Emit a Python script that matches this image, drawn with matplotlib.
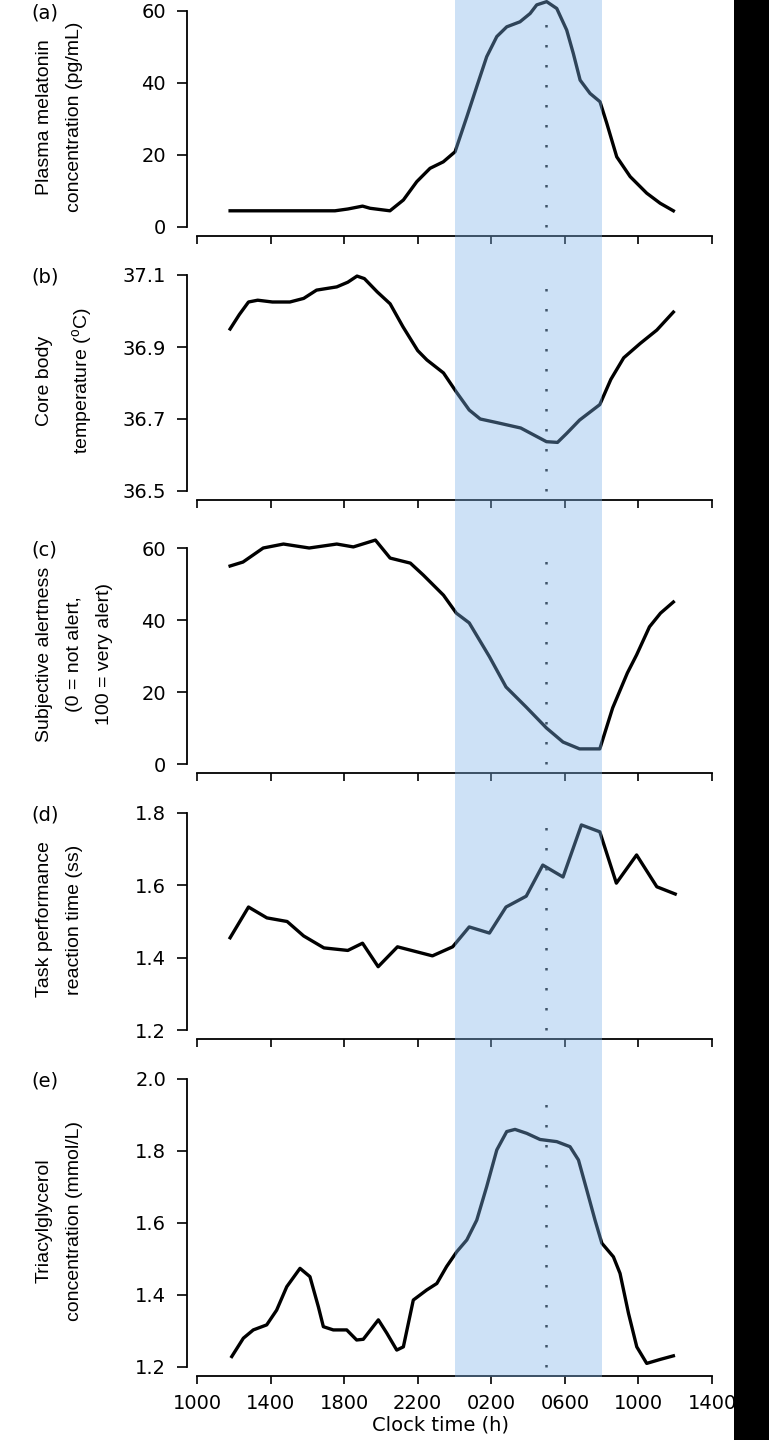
import matplotlib
matplotlib.use("Agg")
import matplotlib.pyplot as plt
from matplotlib.patches import Rectangle

plt.rcParams['font.family'] = 'DejaVu Sans'
plt.rcParams['mathtext.fontset'] = 'custom'
plt.rcParams['mathtext.rm'] = 'Liberation Sans'

# clock time in hours (10 = 10:00 day 1, 38 = 14:00 day 2)
xticks = [10, 14, 18, 22, 26, 30, 34, 38]
xticklabels = ["1000", "1400", "1800", "2200", "0200", "0600", "1000", "1400"]
night = (24, 32)      # shaded sleep window
nadir = 29            # dotted line

mel_t = [11.8, 13, 15, 17.5, 18.2, 19.0, 19.41, 20.49, 21.22, 21.95, 22.67, 23.39, 24.03, 24.67,
         25.21, 25.75, 26.30, 26.84, 27.56, 28.11, 28.47, 29.01, 29.56, 30.10, 30.46, 30.83,
         31.37, 31.91, 32.28, 32.82, 33.55, 34.45, 35.18, 35.90]
mel_v = [4.5, 4.5, 4.5, 4.5, 5.0, 5.8, 5.2, 4.5, 7.5, 12.6, 16.3, 18.1, 20.9, 30.6,
         39.0, 47.3, 52.9, 55.6, 57.0, 59.3, 61.7, 62.6, 60.7, 54.7, 48.2, 40.8,
         37.1, 34.8, 28.8, 19.5, 14.0, 9.4, 6.6, 4.5]

temp_t = [11.8, 12.3, 12.8, 13.3, 14.1, 15.05, 15.8, 16.5, 17.6, 18.2, 18.7, 19.1, 19.8, 20.5,
          21.2, 22.0, 22.5, 23.4, 24.1, 24.8, 25.4, 26.3, 27.6, 28.3, 29.0, 29.6, 30.1, 30.8,
          31.9, 32.5, 33.2, 34.1, 35.0, 35.9]
temp_v = [36.95, 36.99, 37.025, 37.03, 37.025, 37.025, 37.035, 37.058, 37.067, 37.08, 37.097,
          37.09, 37.053, 37.02, 36.956, 36.89, 36.864, 36.828, 36.775, 36.725, 36.70, 36.69,
          36.675, 36.656, 36.637, 36.635, 36.66, 36.697, 36.74, 36.81, 36.87, 36.91, 36.947, 36.997]

alert_t = [11.8, 12.5, 13.6, 14.7, 16.1, 17.6, 18.5, 19.7, 20.5, 21.6, 22.3, 23.4, 24.1, 24.8,
           25.9, 26.8, 27.9, 29.0, 29.9, 30.8, 31.9, 32.6, 33.4, 33.9, 34.6, 35.2, 35.9]
alert_v = [55, 56.1, 60, 61.1, 60, 61.1, 60.3, 62.2, 57.2, 55.8, 52.5, 46.9, 41.9, 39.2,
           29.8, 21.4, 15.8, 10, 6.1, 4.2, 4.2, 15.6, 25.3, 30.3, 38.1, 41.9, 45]

rt_t = [11.8, 12.8, 13.8, 14.9, 15.8, 16.9, 18.2, 19.0, 19.85, 20.9, 22.8, 23.9, 24.8, 25.9,
        26.8, 27.9, 28.8, 29.9, 30.9, 31.9, 32.8, 33.9, 35.0, 36.0]
rt_v = [1.455, 1.54, 1.51, 1.50, 1.46, 1.427, 1.42, 1.44, 1.375, 1.43, 1.405, 1.43, 1.485, 1.468,
        1.54, 1.57, 1.656, 1.623, 1.767, 1.748, 1.606, 1.684, 1.596, 1.576]

tag_t = [11.89, 12.52, 13.06, 13.79, 14.33, 14.88, 15.60, 16.14, 16.60, 16.87, 17.41, 18.14,
         18.68, 19.04, 19.86, 20.32, 20.86, 21.22, 21.76, 22.49, 23.04, 23.57, 24.12, 24.67,
         25.21, 25.75, 26.30, 26.84, 27.29, 27.93, 28.65, 29.56, 30.28, 30.74, 31.19, 31.64,
         32.01, 32.64, 33.00, 33.46, 33.91, 34.45, 35.18, 35.90]
tag_v = [1.229, 1.280, 1.303, 1.317, 1.358, 1.423, 1.474, 1.451, 1.367, 1.312, 1.303, 1.303,
         1.275, 1.277, 1.331, 1.294, 1.247, 1.256, 1.386, 1.414, 1.432, 1.479, 1.520, 1.553,
         1.608, 1.701, 1.803, 1.854, 1.860, 1.849, 1.832, 1.826, 1.812, 1.775, 1.692, 1.608,
         1.544, 1.506, 1.460, 1.349, 1.256, 1.210, 1.221, 1.231]

panels = [
    ("(a)", "Plasma melatonin\nconcentration (pg/mL)", mel_t, mel_v,
     [0, 20, 40, 60], ["0", "20", "40", "60"], (11, 227)),
    ("(b)", "Core body\ntemperature ($^{\\mathrm{o}}$C)", temp_t, temp_v,
     [36.5, 36.7, 36.9, 37.1], ["36.5", "36.7", "36.9", "37.1"], (275, 491)),
    ("(c)", "Subjective alertness\n(0 = not alert,\n100 = very alert)", alert_t, alert_v,
     [0, 20, 40, 60], ["0", "20", "40", "60"], (548, 764)),
    ("(d)", "Task performance\nreaction time (ss)", rt_t, rt_v,
     [1.2, 1.4, 1.6, 1.8], ["1.2", "1.4", "1.6", "1.8"], (813, 1030)),
    ("(e)", "Triacylglycerol\nconcentration (mmol/L)", tag_t, tag_v,
     [1.2, 1.4, 1.6, 1.8, 2.0], ["1.2", "1.4", "1.6", "1.8", "2.0"], (1079, 1367)),
]

W, H = 769, 1440
fig = plt.figure(figsize=(W / 100, H / 100), dpi=100)
x0, x1 = 197, 712

def fx(px):
    return px / W

def fy(py):
    return 1 - py / H

axes = []
for i, (letter, ylab, t, v, yt, ytl, (top, bot)) in enumerate(panels):
    ax = fig.add_axes([fx(x0), fy(bot), fx(x1 - x0), (bot - top) / H])
    ax.patch.set_visible(False)
    ax.plot(t, v, color="black", lw=2.4, clip_on=False, solid_joinstyle="round")
    ax.axvline(nadir, ymin=0, ymax=0.97, color="#1a1a1a", lw=1.8,
               linestyle=(0, (1, 7)), clip_on=False)
    ax.set_xlim(10, 38)
    ax.set_ylim(yt[0], yt[-1])
    ax.set_xticks(xticks)
    ax.set_yticks(yt)
    ax.set_yticklabels(ytl)
    for s in ["top", "right"]:
        ax.spines[s].set_visible(False)
    ax.spines["left"].set_position(("outward", 7.2))
    ax.spines["bottom"].set_position(("outward", 6.5))
    ax.spines["left"].set_linewidth(1.3)
    ax.spines["bottom"].set_linewidth(1.3)
    ax.tick_params(axis="y", direction="out", length=7, width=1.2, pad=8, labelsize=14)
    ax.tick_params(axis="x", direction="out", length=6, width=1.2, pad=7, labelsize=14)
    if i == len(panels) - 1:
        ax.set_xticklabels(xticklabels)
    else:
        ax.tick_params(axis="x", labelbottom=False)
    fig.text(fx(31), fy(top + 2), letter, fontsize=14, ha="left", va="center")
    fig.text(fx(36), fy((top + bot) / 2 - 2), ylab, rotation=90, ha="left", va="center",
             multialignment="center", fontsize=14, family="Liberation Sans", linespacing=2.0)
    axes.append(ax)

fig.text(fx(441), fy(1425), "Clock time (h)", fontsize=14, ha="center", va="center")

# translucent night band over all panels
band = fig.add_axes([fx(x0), fy(1377), fx(x1 - x0), 1377 / H], zorder=10)
band.set_xlim(10, 38)
band.axis("off")
band.patch.set_visible(False)
band.axvspan(night[0], night[1], color="#7db3ea", alpha=0.385, lw=0)

fig.patches.append(Rectangle((fx(734), 0), 1 - fx(734), 1, transform=fig.transFigure,
                             facecolor="black", edgecolor="none", zorder=20))

fig.savefig("out.png", dpi=100)
plt.close(fig)
